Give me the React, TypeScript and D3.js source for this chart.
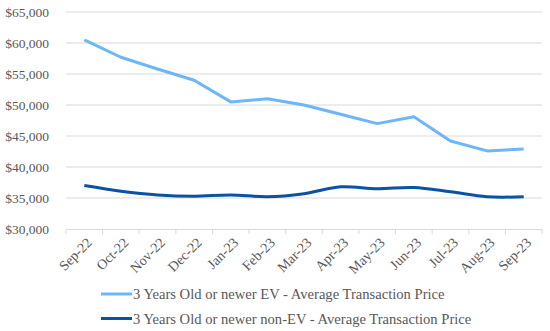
import React, { useEffect, useRef } from "react";
import * as d3 from "d3";

const months = ["Sep-22", "Oct-22", "Nov-22", "Dec-22", "Jan-23", "Feb-23", "Mar-23", "Apr-23", "May-23", "Jun-23", "Jul-23", "Aug-23", "Sep-23"];
const evPrice = [60500, 57700, 55800, 54000, 50500, 51000, 50000, 48500, 47000, 48100, 44200, 42600, 42900];
const nonEvPrice = [37000, 36100, 35500, 35300, 35500, 35200, 35700, 36800, 36500, 36700, 36000, 35200, 35200];
const yTicks = [30000, 35000, 40000, 45000, 50000, 55000, 60000, 65000];
const seriesNames = [
  "3 Years Old or newer EV - Average Transaction Price",
  "3 Years Old or newer non-EV - Average Transaction Price",
];

const FONT = "'Liberation Serif', serif";

const App = () => {
  const svgRef = useRef<SVGSVGElement>(null);

  useEffect(() => {
    const svg = d3.select(svgRef.current);
    svg.selectAll("*").remove();

    const width = 550;
    const height = 331;
    const margin = { top: 12, right: 8, bottom: 102, left: 66 };

    const x = d3.scaleBand()
      .domain(months)
      .range([margin.left, width - margin.right]);

    const y = d3.scaleLinear()
      .domain([30000, 65000])
      .range([height - margin.bottom, margin.top]);

    // gridlines
    svg.append("g")
      .selectAll("line")
      .data(yTicks.filter(d => d !== 30000))
      .enter().append("line")
      .attr("x1", margin.left)
      .attr("x2", width - margin.right)
      .attr("y1", d => y(d))
      .attr("y2", d => y(d))
      .attr("stroke", "#d9d9d9")
      .attr("stroke-width", 1);

    // y labels
    svg.append("g")
      .selectAll("text")
      .data(yTicks)
      .enter().append("text")
      .attr("x", 49)
      .attr("y", d => y(d))
      .attr("dy", "0.35em")
      .attr("text-anchor", "end")
      .attr("font-family", FONT)
      .attr("font-size", 13.5)
      .attr("fill", "#595959")
      .text(d => d3.format("$,")(d));

    // x axis
    const xAxis = svg.append("g")
      .attr("transform", `translate(0,${y(30000)})`)
      .call(d3.axisBottom(x).tickSize(0).tickFormat(() => ""));
    xAxis.select(".domain").attr("stroke", "#d9d9d9");

    const edges = months.map(m => x(m) as number).concat([width - margin.right]);
    xAxis.selectAll(".edge")
      .data(edges)
      .enter().append("line")
      .attr("x1", d => d)
      .attr("x2", d => d)
      .attr("y1", 0)
      .attr("y2", 5)
      .attr("stroke", "#d9d9d9");

    svg.append("g")
      .selectAll("text")
      .data(months)
      .enter().append("text")
      .attr("transform", d => `translate(${(x(d) as number) + x.bandwidth() / 2 + 5},${y(30000) + 11}) rotate(-45)`)
      .attr("text-anchor", "end")
      .attr("dy", "0.35em")
      .attr("font-family", FONT)
      .attr("font-size", 14)
      .attr("fill", "#595959")
      .text(d => d);

    const cx = (d: string) => (x(d) as number) + x.bandwidth() / 2;

    const evLine = d3.line<number>()
      .x((d, i) => cx(months[i]))
      .y(d => y(d));

    const nonEvLine = d3.line<number>()
      .x((d, i) => cx(months[i]))
      .y(d => y(d))
      .curve(d3.curveCatmullRom.alpha(0.5));

    svg.append("path")
      .datum(evPrice)
      .attr("d", evLine)
      .attr("fill", "none")
      .attr("stroke", "#6db6f7")
      .attr("stroke-width", 3)
      .attr("stroke-linejoin", "round");

    svg.append("path")
      .datum(nonEvPrice)
      .attr("d", nonEvLine)
      .attr("fill", "none")
      .attr("stroke", "#0b52a3")
      .attr("stroke-width", 3)
      .attr("stroke-linejoin", "round");

    // legend
    const colors = ["#6db6f7", "#0b52a3"];
    const legend = svg.append("g")
      .selectAll("g")
      .data(seriesNames)
      .enter().append("g")
      .attr("transform", (d, i) => `translate(101,${294 + i * 24.5})`);

    legend.append("line")
      .attr("x1", 0)
      .attr("x2", 31)
      .attr("stroke", (d, i) => colors[i])
      .attr("stroke-width", 3);

    legend.append("text")
      .attr("x", 32)
      .attr("dy", "0.35em")
      .attr("font-family", FONT)
      .attr("font-size", 14.6)
      .attr("fill", "#595959")
      .text(d => d);
  }, []);

  return (
    <svg
      ref={svgRef}
      width={550}
      height={331}
      style={{ position: "absolute", left: 0, top: 0, background: "#fff" }}
    />
  );
};

export default App;
